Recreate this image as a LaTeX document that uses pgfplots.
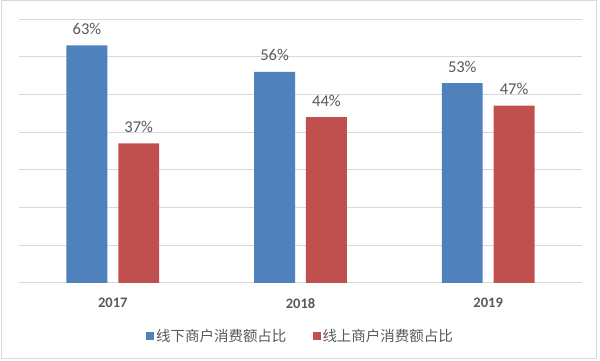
\documentclass[border=0pt]{standalone}
\usepackage{pgfplots}
\pgfplotsset{compat=1.18}
\usepackage{fontspec}
\setmainfont{Carlito}
\newfontfamily\cjk{Noto Sans CJK SC}
\definecolor{cblue}{HTML}{4F81BD}
\definecolor{cred}{HTML}{C0504D}
\definecolor{gridgray}{HTML}{D9D9D9}
\definecolor{txt}{HTML}{595959}
\begin{document}
\begin{tikzpicture}[x=1pt,y=1pt]
\path[use as bounding box] (0,0) rectangle (600,361);
\draw[gridgray,line width=1pt] (1,2) rectangle (596,360);
\begin{axis}[
  at={(19pt,78pt)}, anchor=south west,
  scale only axis, width=563pt, height=264pt,
  ymin=0, ymax=70, xmin=-0.5, xmax=2.5,
  ytick={0,10,...,70}, yticklabels={},
  xmajorgrids=false, ymajorgrids=true,
  y grid style={draw=gridgray, line width=1pt},
  axis line style={draw=none},
  xmajorticks=false, xminorticks=false, yminorticks=false,
  ytick style={draw=none},
  major tick length=0pt,
  /pgf/number format/assume math mode=true,
  ybar, bar width=0.218,
  nodes near coords={\pgfmathprintnumber{\pgfplotspointmeta}\%},
  every node near coord/.append style={font=\fontsize{16.5}{18}\selectfont, text=txt, anchor=base, inner sep=0pt, yshift=11pt},
  legend columns=2,
  legend style={at={(0.5,-0.2008)}, anchor=center, draw=none, fill=none,
    font=\cjk\fontsize{14.5}{16}\selectfont, text=txt,
    /tikz/every even column/.append style={column sep=24pt}},
  legend image code/.code={\fill[#1] (0pt,-4pt) rectangle (8pt,4pt);},
]
\addplot[fill=cblue, draw=none, bar shift=-0.138] coordinates {(0,63) (1,56) (2,53)};
\addplot[fill=cred, draw=none, bar shift=0.138] coordinates {(0,37) (1,44) (2,47)};
\addplot[forget plot, draw=none, fill=none, bar shift=0, bar width=0,
  point meta=explicit symbolic,
  nodes near coords={\pgfplotspointmeta},
  every node near coord/.style={font=\fontsize{14.5}{16}\selectfont\bfseries, text=txt, anchor=north, inner sep=0pt, yshift=-15pt}]
  table[meta=lab] {
x y lab
0 0 2017
1 0 2018
2 0 2019
};
\legend{线下商户消费额占比, 线上商户消费额占比}
\end{axis}
\end{tikzpicture}
\end{document}
